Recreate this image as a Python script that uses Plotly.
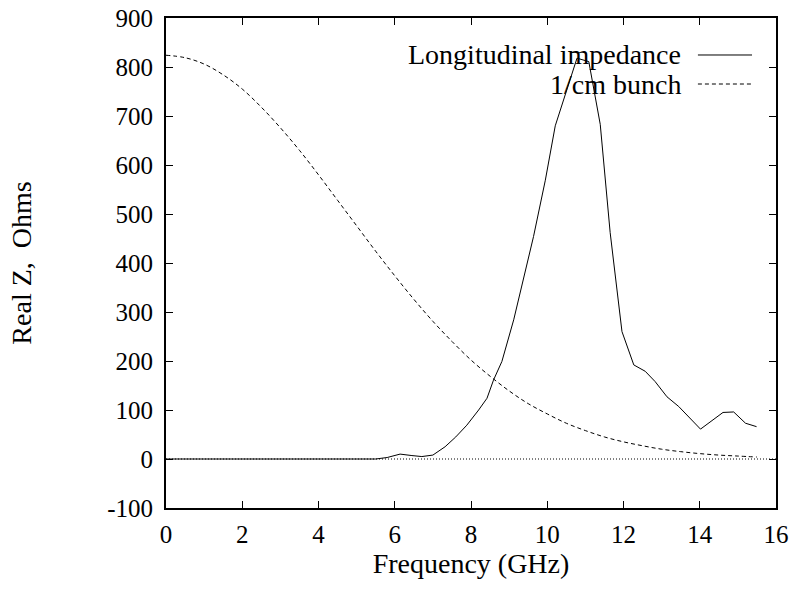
import plotly.graph_objects as go

# Longitudinal impedance (Real Z, Ohms) vs frequency (GHz)
imp_freq = [0, 5.5, 5.8, 6.14, 6.45, 6.71, 7.0, 7.32, 7.6, 7.89, 8.2, 8.42, 8.59, 8.81,
            9.12, 9.38, 9.64, 9.95, 10.21, 10.78, 11.09, 11.39, 11.65, 11.96, 12.27,
            12.57, 12.83, 13.14, 13.45, 14.02, 14.32, 14.61, 14.89, 15.2, 15.49]
imp_real = [0, 0, 3, 10, 7, 5, 8, 25, 45, 69, 100, 124, 161, 199,
            284, 372, 454, 569, 680, 818, 811, 683, 462, 260, 192,
            179, 158, 127, 107, 61, 78, 95, 96, 73, 66]

# 1 cm bunch spectrum (scaled)
bunch_freq = [0, 0.5, 1, 1.5, 2, 2.5, 3, 3.5, 4, 4.5, 5, 5.5, 6, 6.5, 7, 7.5, 8, 8.5,
              9, 9.5, 10, 10.5, 11, 11.5, 12, 12.5, 13, 13.5, 14, 14.5, 15, 15.5]
bunch_val = [824, 819, 806, 784, 755, 718, 676, 630, 580, 528, 476, 424, 374, 326, 281,
             240, 202, 169, 139, 113, 92, 73, 58, 45, 35, 27, 20, 15, 11, 8, 6, 4]

zero_freq = [0, 16]
zero_val = [0, 0]

x_ticks = [0, 2, 4, 6, 8, 10, 12, 14, 16]
y_ticks = [-100, 0, 100, 200, 300, 400, 500, 600, 700, 800, 900]
y_ticktext = ["-100", "0", "100", "200", "300", "400", "500", "600", "700", "800", "900"]

FONT = "Liberation Serif"

fig = go.Figure()
fig.add_trace(go.Scatter(x=zero_freq, y=zero_val, mode="lines",
                         line=dict(color="black", width=1, dash="1px,2px"),
                         showlegend=False, hoverinfo="skip"))
fig.add_trace(go.Scatter(x=bunch_freq, y=bunch_val, mode="lines", line_shape="spline",
                         line=dict(color="black", width=1, dash="4px,3px"),
                         showlegend=False))
fig.add_trace(go.Scatter(x=imp_freq, y=imp_real, mode="lines",
                         line=dict(color="black", width=1),
                         showlegend=False))

# gnuplot-style key: text right-aligned, line sample on the right
key = [("Longitudinal impedance", "solid", 0.9245), ("1/cm bunch", "4px,3px", 0.8653)]
for label, dash, yp in key:
    fig.add_annotation(x=0.8475, y=yp, xref="paper", yref="paper", text=label,
                       showarrow=False, xanchor="right", yanchor="middle",
                       font=dict(family=FONT, size=28, color="black"))
    fig.add_shape(type="line", xref="paper", yref="paper", x0=0.872, x1=0.9607,
                  y0=yp, y1=yp, line=dict(color="black", width=1, dash=dash))

axis_common = dict(showline=True, mirror="ticks", linecolor="black", linewidth=2,
                   ticks="inside", ticklen=7, tickcolor="black", tickwidth=1,
                   showgrid=False, zeroline=False, automargin=False,
                   tickfont=dict(family=FONT, size=25, color="black"))
fig.update_xaxes(range=[0, 16], tickvals=x_ticks, ticklabelstandoff=3,
                 title=dict(text="Frequency (GHz)", standoff=0,
                            font=dict(family=FONT, size=28, color="black")),
                 **axis_common)
fig.update_yaxes(range=[-100, 900], tickvals=y_ticks, ticktext=y_ticktext,
                 ticklabelstandoff=6,
                 title=dict(text="Real Z,  Ohms", standoff=67,
                            font=dict(family=FONT, size=28, color="black")),
                 **axis_common)

fig.update_layout(width=795, height=589, margin=dict(l=166, r=19, t=18, b=81),
                  plot_bgcolor="white", paper_bgcolor="white", showlegend=False)
fig.write_html("out.html")
